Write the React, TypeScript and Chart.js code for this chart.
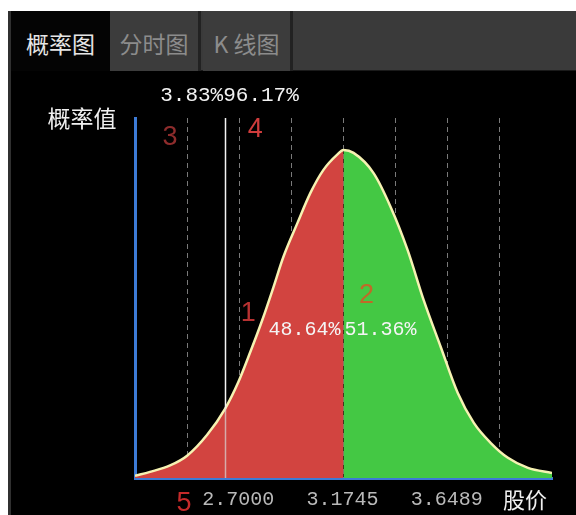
import React, { useEffect, useRef } from 'react';
import { Chart, registerables } from 'chart.js';

Chart.register(...registerables);

// ---- data ----
const tabLabels = ['概率图', '分时图', 'K 线图'];
const yAxisTitle = '概率值';
const xAxisTitle = '股价';

const axisMin = 2.2257;
const axisMax = 4.1233;
const tickValues = [2.2257, 2.4629, 2.7, 2.9372, 3.1745, 3.4117, 3.6489, 3.8861, 4.1233];
const labeledTicks = [2.7, 3.1745, 3.6489];

const curvePrice = [
  2.2257, 2.2941, 2.3854, 2.4629, 2.5541, 2.6362, 2.6955, 2.7503, 2.805, 2.8552, 2.9008, 2.9647, 3.024, 3.0833,
  3.1471, 3.1745, 3.2201, 3.3113, 3.3889, 3.4664, 3.5394, 3.617, 3.6945, 3.7675, 3.845, 3.9226, 4.0138, 4.1233,
];
const curveDensity = [
  0.6, 1.7, 3.5, 6.2, 12.0, 19.3, 26.6, 35.0, 43.9, 52.9, 61.4, 70.8, 79.2, 85.6,
  89.9, 91.1, 90.3, 84.7, 75.3, 63.3, 49.4, 36.4, 23.6, 15.3, 9.7, 5.6, 2.8, 1.4,
];

const splitPrice = 3.1745;
const markerPrice = 2.6362;
const leftTailPct = '3.83%';
const rightTailPct = '96.17%';
const belowSplitPct = '48.64%';
const aboveSplitPct = '51.36%';
const pctLabelLevel = 41.1;

const annotationTexts = ['1', '2', '3', '4', '5'];
const annotationPrices = [2.7411, 3.2794, 2.3854, 2.7731, 2.4492];
const annotationLevels = [45.6, 50.8, 94.7, 96.9, -7.2];
const annotationColors = ['#b83232', '#c06a28', '#8e2c2c', '#cf3c3c', '#c42a2a'];

// ---- helpers ----
const points = curvePrice.map((x, i) => ({ x, y: curveDensity[i] }));
const redPoints = points.filter((p) => p.x <= splitPrice);
const greenPoints = points.filter((p) => p.x >= splitPrice);

function densityAt(price: number): number {
  for (let i = 0; i < curvePrice.length - 1; i++) {
    const a = curvePrice[i];
    const b = curvePrice[i + 1];
    if (price >= a && price <= b) {
      const t = (price - a) / (b - a);
      return curveDensity[i] + t * (curveDensity[i + 1] - curveDensity[i]);
    }
  }
  return 0;
}

const MONO = '"Liberation Mono", "DejaVu Sans Mono", monospace';
const CJK = '"Noto Sans CJK SC", "Noto Sans", sans-serif';
const SANS = '"Liberation Sans", Arial, sans-serif';

function txt(ctx: CanvasRenderingContext2D, s: string, x: number, y: number, font: string, color: string, align: CanvasTextAlign = 'center') {
  ctx.save();
  ctx.font = font;
  ctx.fillStyle = color;
  ctx.textAlign = align;
  ctx.textBaseline = 'middle';
  ctx.fillText(s, x, y);
  ctx.restore();
}

const overlayPlugin = {
  id: 'overlay',
  afterDatasetsDraw(chart: any) {
    const ctx: CanvasRenderingContext2D = chart.ctx;
    const { top, bottom } = chart.chartArea;
    const xs = chart.scales.x;
    const ys = chart.scales.y;
    const mx = Math.round(xs.getPixelForValue(markerPrice)) + 0.5;
    const cy = ys.getPixelForValue(densityAt(markerPrice));
    ctx.save();
    ctx.lineWidth = 1.5;
    ctx.strokeStyle = '#f4f4f4';
    ctx.beginPath();
    ctx.moveTo(mx, top);
    ctx.lineTo(mx, cy);
    ctx.stroke();
    ctx.strokeStyle = 'rgba(215,215,215,0.7)';
    ctx.beginPath();
    ctx.moveTo(mx, cy);
    ctx.lineTo(mx, bottom);
    ctx.stroke();
    ctx.restore();
  },
  afterDraw(chart: any) {
    const ctx: CanvasRenderingContext2D = chart.ctx;
    const { left, right, top, bottom } = chart.chartArea;
    const xs = chart.scales.x;
    const ys = chart.scales.y;

    // tick labels
    labeledTicks.forEach((v) => {
      txt(ctx, v.toFixed(4), xs.getPixelForValue(v) - 1, bottom + 22, `20px ${MONO}`, '#b9b9b9');
    });
    // axis titles
    txt(ctx, xAxisTitle, right - 27, bottom + 22, `22px ${CJK}`, '#f0f0f0');
    txt(ctx, yAxisTitle, left - 53, top, `23px ${CJK}`, '#f0f0f0');

    // tail percentages at marker
    const mx = xs.getPixelForValue(markerPrice);
    txt(ctx, leftTailPct, mx - 2, top - 23, `21px ${MONO}`, '#f2f2f2', 'right');
    txt(ctx, rightTailPct, mx - 2, top - 23, `21px ${MONO}`, '#f2f2f2', 'left');

    // split percentages
    const sx = xs.getPixelForValue(splitPrice);
    const sy = ys.getPixelForValue(pctLabelLevel);
    txt(ctx, belowSplitPct, sx - 3, sy, `20px ${MONO}`, '#f4f4f4', 'right');
    txt(ctx, aboveSplitPct, sx + 1, sy, `20px ${MONO}`, '#f4f4f4', 'left');

    // numbered annotations
    annotationTexts.forEach((t, i) => {
      txt(ctx, t, xs.getPixelForValue(annotationPrices[i]), ys.getPixelForValue(annotationLevels[i]), `27px ${SANS}`, annotationColors[i]);
    });
  },
};

export default function App() {
  const canvasRef = useRef<HTMLCanvasElement | null>(null);

  useEffect(() => {
    if (!canvasRef.current) return;
    const chart = new Chart(canvasRef.current, {
      type: 'line',
      data: {
        datasets: [
          {
            data: points,
            borderColor: '#f6f2b2',
            borderWidth: 2.5,
            fill: false,
            pointRadius: 0,
            cubicInterpolationMode: 'monotone',
            order: 0,
          },
          {
            data: redPoints,
            borderColor: 'rgba(0,0,0,0)',
            borderWidth: 1,
            backgroundColor: '#d24440',
            fill: 'origin',
            pointRadius: 0,
            cubicInterpolationMode: 'monotone',
            order: 2,
          },
          {
            data: greenPoints,
            borderColor: 'rgba(0,0,0,0)',
            borderWidth: 1,
            backgroundColor: '#44c844',
            fill: 'origin',
            pointRadius: 0,
            cubicInterpolationMode: 'monotone',
            order: 2,
          },
        ],
      },
      options: {
        animation: false,
        responsive: true,
        maintainAspectRatio: false,
        layout: { padding: { left: 127, right: 24, top: 47, bottom: 37 } },
        plugins: { legend: { display: false }, tooltip: { enabled: false } },
        events: [],
        scales: {
          x: {
            type: 'linear',
            min: axisMin,
            max: axisMax,
            afterBuildTicks: (s: any) => {
              s.ticks = tickValues.map((v) => ({ value: v }));
            },
            ticks: { display: false },
            grid: {
              drawTicks: false,
              lineWidth: 1,
              color: (c: any) => (c.index === 0 || c.index === tickValues.length - 1 ? 'rgba(0,0,0,0)' : '#7a7a7a'),
            },
            border: { display: true, color: '#3d7bd6', width: 3, dash: [5, 4] },
          },
          y: {
            min: 0,
            max: 100,
            ticks: { display: false },
            grid: { display: false, drawTicks: false },
            border: { display: true, color: '#3d7bd6', width: 3 },
          },
        },
      },
      plugins: [overlayPlugin],
    } as any);
    return () => chart.destroy();
  }, []);

  const tabStyle = (i: number): React.CSSProperties => ({
    position: 'absolute',
    top: 0,
    height: 60,
    left: [3, 102, 195][i],
    width: [99, 91, 90][i],
    background: i === 0 ? '#040404' : '#3c3c3c',
    borderRight: i === 0 ? 'none' : '3px solid #222',
    color: i === 0 ? '#e6e6e6' : '#8c8c8c',
    font: `23px ${CJK}`,
    display: 'flex',
    alignItems: 'center',
    justifyContent: 'center',
    paddingTop: 4,
    boxSizing: 'border-box',
    whiteSpace: 'nowrap',
  });

  return (
    <div style={{ position: 'fixed', left: 0, top: 0, width: 576, height: 515, background: '#fff', overflow: 'hidden' }}>
      <div style={{ position: 'absolute', left: 8, top: 11, width: 568, height: 504, background: '#000' }}>
        <div style={{ position: 'absolute', left: 0, top: 0, width: 3, height: 504, background: '#303030' }} />
        <div style={{ position: 'absolute', left: 3, top: 0, width: 565, height: 60, background: '#3a3a3a', borderBottom: '1px solid #1a1a1a', boxSizing: 'border-box' }} />
        {tabLabels.map((t, i) => (
          <div key={t} style={tabStyle(i)}>
            {t}
          </div>
        ))}
        <div style={{ position: 'absolute', left: 0, top: 60, width: 568, height: 444 }}>
          <canvas ref={canvasRef} />
        </div>
      </div>
    </div>
  );
}
